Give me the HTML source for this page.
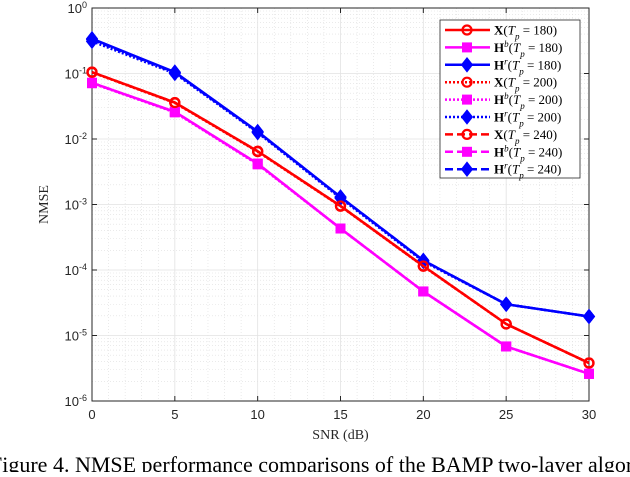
<!DOCTYPE html>
<html><head><meta charset="utf-8"><style>
body{margin:0;background:#fff;width:630px;height:472px;overflow:hidden;font-family:"Liberation Serif",serif}
</style></head><body>
<svg id="chart" width="630" height="472" xmlns="http://www.w3.org/2000/svg" font-family="Liberation Serif, serif"></svg>
<script>
const snr=[0,5,10,15,20,25,30];
const xTicks=[0,5,10,15,20,25,30];
const yExp=[0,-1,-2,-3,-4,-5,-6];
const X180=[0.105,0.036,0.0065,0.00095,0.000115,1.5e-5,3.8e-6];
const Hb180=[0.072,0.026,0.0042,0.00043,4.7e-5,6.8e-6,2.6e-6];
const Hr180=[0.34,0.105,0.013,0.0013,0.00014,3.0e-5,1.95e-5];
const X200=[0.104,0.0355,0.0064,0.00094,0.000114,1.5e-5,3.8e-6];
const Hb200=[0.071,0.0255,0.0041,0.00043,4.7e-5,6.8e-6,2.6e-6];
const Hr200=[0.31,0.1,0.0125,0.00125,0.000135,3.0e-5,1.95e-5];
const X240=[0.105,0.036,0.0065,0.00095,0.000115,1.5e-5,3.8e-6];
const Hb240=[0.072,0.026,0.0042,0.00043,4.7e-5,6.8e-6,2.6e-6];
const Hr240=[0.33,0.103,0.0128,0.0013,0.00014,3.0e-5,1.95e-5];
const legendLabels=["180","180","180","200","200","200","240","240","240"];

const L=92,R=589,T=8,B=401;
const sx=v=>L+(v-0)/(30-0)*(R-L);
const sy=v=>T+(0-Math.log10(v))/6*(B-T);
const svg=document.getElementById('chart');
const NS='http://www.w3.org/2000/svg';
function mk(tag,a,p){const e=document.createElementNS(NS,tag);for(const k in a)e.setAttribute(k,a[k]);(p||svg).appendChild(e);return e;}

const grid=mk('g',{});


for(let e=0;e>-6;e--){for(let m=2;m<=9;m++){const y=sy(m*Math.pow(10,e-1));mk('line',{x1:L,x2:R,y1:y,y2:y,stroke:'#ddd','stroke-width':0.6,'stroke-dasharray':'1,2'},grid);}}
for(let i=0;i<snr.length-1;i++){for(let k=1;k<5;k++){const x=sx(xTicks[i]+k);mk('line',{x1:x,x2:x,y1:T,y2:B,stroke:'#ddd','stroke-width':0.6,'stroke-dasharray':'1,2'},grid);}}
yExp.forEach(e=>{const y=sy(Math.pow(10,e));mk('line',{x1:L,x2:R,y1:y,y2:y,stroke:'#e2e2e2','stroke-width':0.8},grid);});
xTicks.forEach(t=>{const x=sx(t);mk('line',{x1:x,x2:x,y1:T,y2:B,stroke:'#e2e2e2','stroke-width':0.8},grid);});

const ax=mk('g',{});


mk('rect',{x:L,y:T,width:R-L,height:B-T,fill:'none',stroke:'#262626','stroke-width':1},ax);
xTicks.forEach(t=>{const x=sx(t);mk('line',{x1:x,x2:x,y1:B,y2:B-5,stroke:'#262626'},ax);mk('line',{x1:x,x2:x,y1:T,y2:T+5,stroke:'#262626'},ax);
 const tx=mk('text',{x:x,y:B+18,'text-anchor':'middle','font-size':13,fill:'#262626','font-family':'Liberation Sans, sans-serif'},ax);tx.textContent=t;
 
 });
yExp.forEach(e=>{const y=sy(Math.pow(10,e));mk('line',{x1:L,x2:L+5,y1:y,y2:y,stroke:'#262626'},ax);mk('line',{x1:R,x2:R-5,y1:y,y2:y,stroke:'#262626'},ax);
 const tx=mk('text',{x:L-5,y:y+5,'text-anchor':'end','font-size':13,fill:'#262626','font-family':'Liberation Sans, sans-serif'},ax);
 
 
 tx.innerHTML='10<tspan baseline-shift="super" font-size="9">'+e+'</tspan>';});
const xl=mk('text',{x:(L+R)/2,y:B+38,'text-anchor':'middle','font-size':14,fill:'#262626'});xl.textContent='SNR (dB)';


const yl=mk('text',{x:0,y:0,transform:'translate(48,'+(T+B)/2+') rotate(-90)','text-anchor':'middle','font-size':14,fill:'#262626'});yl.textContent='NMSE';



function marker(g,type,x,y,c){
 if(type==='o')mk('circle',{cx:x,cy:y,r:4.5,fill:'none',stroke:c,'stroke-width':2.2},g);
 else if(type==='s')mk('rect',{x:x-4.5,y:y-4.5,width:9,height:9,fill:c,stroke:c,'stroke-width':1},g);
 else mk('polygon',{points:`${x},${y-7} ${x+5.5},${y} ${x},${y+7} ${x-5.5},${y}`,fill:c,stroke:c,'stroke-width':1},g);
}
const series=[
 [X180,'#ff0000','o',''],[Hb180,'#ff00ff','s',''],[Hr180,'#0000ff','d',''],
 [X200,'#ff0000','o','2,2'],[Hb200,'#ff00ff','s','2,2'],[Hr200,'#0000ff','d','2,2'],
 [X240,'#ff0000','o','8,4'],[Hb240,'#ff00ff','s','8,4'],[Hr240,'#0000ff','d','8,4']];
const names=['X','H<tspan baseline-shift="super" font-size="9" font-style="italic" font-weight="normal">b</tspan>','H<tspan baseline-shift="super" font-size="9" font-style="italic" font-weight="normal">r</tspan>'];
series.slice().reverse().forEach((s,ri)=>{
 const g=mk('g',{});
 
 
 const pts=s[0].map((v,i)=>sx(snr[i])+','+sy(v)).join(' ');
 mk('polyline',{points:pts,fill:'none',stroke:s[1],'stroke-width':2.5,'stroke-dasharray':s[3]},g);
 s[0].forEach((v,i)=>marker(g,s[2],sx(snr[i]),sy(v),s[1]));
});
const lg=mk('g',{});


mk('rect',{x:440,y:20,width:140,height:158,fill:'#fff',stroke:'#262626','stroke-width':0.8},lg);
series.forEach((s,i)=>{
 const y=30+i*17.4;
 mk('line',{x1:445,x2:490,y1:y,y2:y,stroke:s[1],'stroke-width':2.5,'stroke-dasharray':s[3]},lg);
 marker(lg,s[2],467,y,s[1]);
 const t=mk('text',{x:494,y:y+4.5,'font-size':13,fill:'#000'},lg);
 
 
 t.innerHTML='<tspan font-weight="bold">'+names[i%3]+'</tspan>(<tspan font-style="italic">T</tspan><tspan font-style="italic" font-size="9" baseline-shift="sub">p</tspan> = '+legendLabels[i]+')';
});
const cap=mk('text',{x:-10,y:472,'font-size':22,fill:'#000'});


cap.textContent='Figure 4.  NMSE performance comparisons of the BAMP two-layer algorithm';
</script>
</body></html>
